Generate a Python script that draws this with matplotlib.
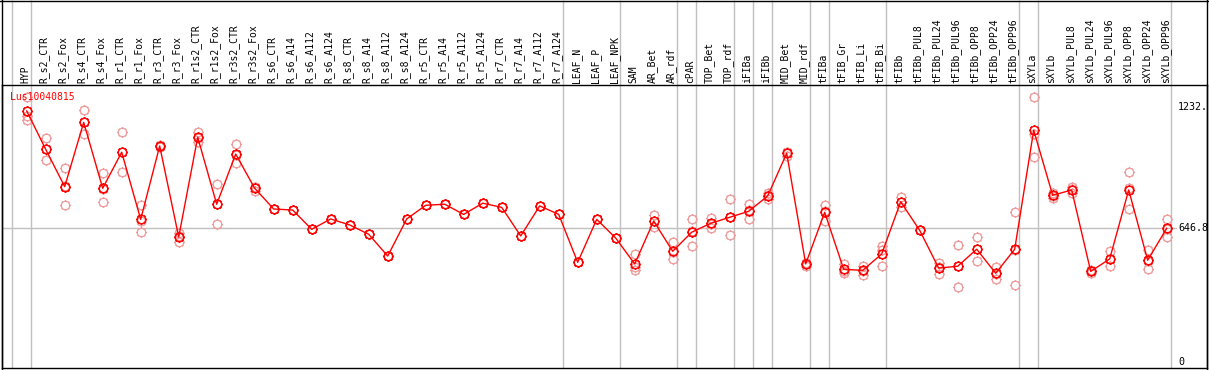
import matplotlib
matplotlib.use("Agg")
import matplotlib.pyplot as plt
import numpy as np
from matplotlib.path import Path
from matplotlib.lines import Line2D

samples = [
    "HYP", "R_s2_CTR", "R_s2_Fox", "R_s4_CTR", "R_s4_Fox", "R_r1_CTR", "R_r1_Fox",
    "R_r3_CTR", "R_r3_Fox", "R_r1s2_CTR", "R_r1s2_Fox", "R_r3s2_CTR", "R_r3s2_Fox",
    "R_s6_CTR", "R_s6_A14", "R_s6_A112", "R_s6_A124", "R_s8_CTR", "R_s8_A14",
    "R_s8_A112", "R_s8_A124", "R_r5_CTR", "R_r5_A14", "R_r5_A112", "R_r5_A124",
    "R_r7_CTR", "R_r7_A14", "R_r7_A112", "R_r7_A124", "LEAF_N", "LEAF_P", "LEAF_NPK",
    "SAM", "AR_Bet", "AR_rdf", "cPAR", "TOP_Bet", "TOP_rdf", "iFIBa", "iFIBb",
    "MID_Bet", "MID_rdf", "tFIBa", "tFIB_Gr", "tFIB_Li", "tFIB_Bi", "tFIBb",
    "tFIBb_PUL8", "tFIBb_PUL24", "tFIBb_PUL96", "tFIBb_OPP8", "tFIBb_OPP24",
    "tFIBb_OPP96", "sXYLa", "sXYLb", "sXYLb_PUL8", "sXYLb_PUL24", "sXYLb_PUL96",
    "sXYLb_OPP8", "sXYLb_OPP24", "sXYLb_OPP96",
]

# mean expression per sample
means = [
    1212, 1027, 847, 1157, 839, 1013, 689, 1043, 604, 1085, 762, 1004, 839,
    739, 734, 641, 691, 662, 617, 512, 691, 757, 762, 713, 767, 747, 609, 754, 713,
    482, 689, 599, 474, 681, 535, 627, 670, 699, 728, 802, 1008, 474,
    723, 448, 443, 522, 774, 636, 454, 463, 545, 429, 545,
    1119, 805, 831, 438, 498, 831, 492, 646,
]

# replicates
rep1 = [
    1279, 1080, 935, 1215, 911, 1110, 757, 1040, 625, 1110, 858, 1053, 847,
    739, 734, 641, 691, 662, 617, 512, 691, 757, 762, 713, 767, 747, 609, 754, 713,
    482, 689, 599, 521, 710, 578, 689, 696, 786, 762, 815, 1015, 479,
    758, 474, 466, 562, 798, 636, 480, 565, 604, 459, 723,
    1279, 818, 844, 443, 535, 916, 540, 689,
]
rep2 = [
    1188, 974, 757, 1099, 771, 916, 627, 1043, 578, 1064, 665, 960, 826,
    739, 734, 641, 691, 662, 617, 512, 691, 757, 762, 713, 767, 747, 609, 754, 713,
    482, 689, 599, 458, 651, 496, 559, 649, 612, 689, 786, 996, 464,
    683, 429, 421, 463, 750, 636, 424, 361, 487, 403, 371,
    1099, 794, 815, 432, 463, 739, 448, 605,
]
rep3 = [
    1168, 1027, 849, 1157, 835, 1013, 683, 1046, 609, 1081, 763, 999, 844,
    739, 734, 641, 691, 662, 617, 512, 691, 757, 762, 713, 767, 747, 609, 754, 713,
    482, 689, 599, 443, 682, 531, 633, 665, 699, 733, 805, 1013, 479,
    728, 441, 442, 541, 774, 636, 458, 463, 544, 425, 541,
    988, 803, 834, 439, 496, 838, 488, 644,
]

# last sample of each group (grey separators)
group_ends = [-1, 0, 28, 31, 34, 35, 37, 38, 39, 41, 42, 45, 52, 53, 60]
ref_labels = ["1232.", "646.8", "0"]
ref_values = [1232, 646.8, 0]
title = "Lus10040815"

mono = "DejaVu Sans Mono"
W, H = 1209, 370
fig = plt.figure(figsize=(W / 100, H / 100), dpi=100)
fig.patch.set_facecolor("white")

ax_l, ax_r, ax_t, ax_b = 2, 1207, 85, 368
ax = fig.add_axes([ax_l / W, (H - ax_b) / H, (ax_r - ax_l) / W, (ax_b - ax_t) / H])
k = 0.2073
x0 = 26.7
ax.set_xlim((ax_l - x0) / 19, (ax_r - x0) / 19)
ax.set_ylim((362.2 - ax_b) / k, (362.2 - ax_t) / k)
ax.set_xticks([])
ax.set_yticks([])
for s in ax.spines.values():
    s.set_color("black")
    s.set_linewidth(1.0)

x = np.arange(len(samples))
hdr = (ax_b - 0) / (ax_b - ax_t)

# grey separators, running through the header
ax.vlines(np.array(group_ends) + 0.22, 0, hdr, transform=ax.get_xaxis_transform(),
          color="#c0c0c0", lw=1.0, clip_on=False, zorder=0)
ax.plot([ax.get_xlim()[0], (1176 - x0) / 19], [646.8, 646.8], color="#c0c0c0", lw=1.0, zorder=0)

# circle marker with small ticks
circ = Path.unit_circle()
ticks = []
for a in np.arange(0, 2 * np.pi, np.pi / 4):
    c, s = np.cos(a), np.sin(a)
    ticks.append(Path([(c, s), (1.25 * c, 1.25 * s)], [Path.MOVETO, Path.LINETO]))
gear = Path.make_compound_path(circ, *ticks)

for r in (rep1, rep2, rep3):
    ax.plot(x, r, ls="none", marker=gear, ms=7.6, mfc="none", mec="#ee9a9a", mew=0.9, zorder=2)
ax.plot(x, means, color="#ff0000", lw=1.0, marker=gear, ms=7.6, mfc="none",
        mec="#ff0000", mew=1.05, zorder=3)

for xi, lab in zip(x, samples):
    ax.text(xi - 0.08, (ax_b - 83) / (ax_b - ax_t), lab, transform=ax.get_xaxis_transform(),
            rotation=90, ha="center", va="bottom", fontsize=7, family=mono, clip_on=False)

for lab, v in zip(ref_labels, ref_values):
    ax.text((1178 - x0) / 19, v, lab, ha="left", va="center", fontsize=7.2, family=mono)

ax.text((10 - ax_l) / (ax_r - ax_l), (ax_b - 97) / (ax_b - ax_t), title, transform=ax.transAxes,
        color="#ff0000", ha="left", va="center", fontsize=7, family=mono)

# outer border of header
fig.add_artist(Line2D([0, 1], [1 - 0.5 / H, 1 - 0.5 / H], color="black", lw=1.0))
fig.add_artist(Line2D([(ax_l) / W] * 2, [0, 1], color="black", lw=1.0))
fig.add_artist(Line2D([(ax_r) / W] * 2, [0, 1], color="black", lw=1.0))

fig.savefig("out.png", dpi=100)
